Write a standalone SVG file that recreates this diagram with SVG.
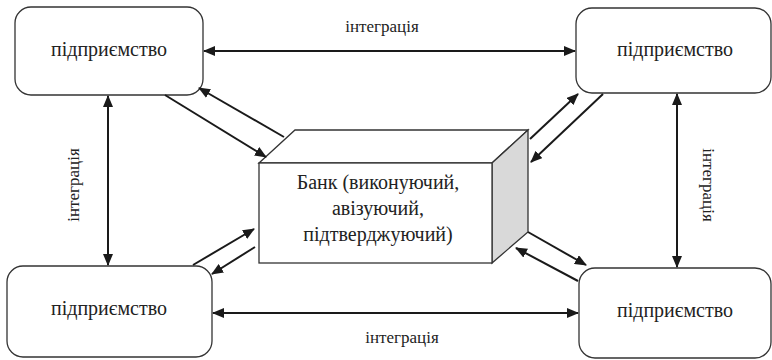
<svg xmlns="http://www.w3.org/2000/svg" width="772" height="360" viewBox="0 0 772 360">
<defs>
<marker id="ah" viewBox="0 0 12 10" refX="11" refY="5" markerWidth="12" markerHeight="10" markerUnits="userSpaceOnUse" orient="auto-start-reverse">
<path d="M0,0 L12,5 L0,10 Z" fill="#1a1a1a"/>
</marker>
<style>
.box{fill:#fff;stroke:#333;stroke-width:1.3}
.c{stroke:#1a1a1a;stroke-width:2;fill:none}
</style>
</defs>
<g id="n1"><rect class="box" x="15" y="7" width="188" height="88" rx="16"/><text x="109" y="56" font-family="Liberation Serif, serif" font-size="20" fill="#222" text-anchor="middle">підприємство</text></g>
<g id="n2"><rect class="box" x="576" y="8" width="195" height="85" rx="16"/><text x="675" y="56" font-family="Liberation Serif, serif" font-size="20" fill="#222" text-anchor="middle">підприємство</text></g>
<g id="n3"><rect class="box" x="7" y="266" width="205" height="91" rx="16"/><text x="109" y="315" font-family="Liberation Serif, serif" font-size="20" fill="#222" text-anchor="middle">підприємство</text></g>
<g id="n4"><rect class="box" x="579" y="268" width="192" height="90" rx="16"/><text x="675" y="317" font-family="Liberation Serif, serif" font-size="20" fill="#222" text-anchor="middle">підприємство</text></g>
<g id="bank">
<polygon points="259,163 295,130 528,130 492,163" fill="#fff" stroke="#333" stroke-width="1.3"/>
<polygon points="492,163 528,130 528,232 492,263" fill="#d9d9d9" stroke="#333" stroke-width="1.3"/>
<rect x="259" y="163" width="233" height="100" fill="#fff" stroke="#333" stroke-width="1.3"/>
<text x="378" y="189" font-family="Liberation Serif, serif" font-size="20" fill="#222" text-anchor="middle">Банк (виконуючий,</text>
<text x="378" y="215" font-family="Liberation Serif, serif" font-size="20" fill="#222" text-anchor="middle">авізуючий,</text>
<text x="378" y="241" font-family="Liberation Serif, serif" font-size="20" fill="#222" text-anchor="middle">підтверджуючий)</text>
</g>
<g id="connectors">
<line class="c" x1="204" y1="51" x2="575" y2="51" marker-start="url(#ah)" marker-end="url(#ah)"/>
<line class="c" x1="213" y1="313" x2="578" y2="313" marker-start="url(#ah)" marker-end="url(#ah)"/>
<line class="c" x1="108" y1="96" x2="108" y2="265" marker-start="url(#ah)" marker-end="url(#ah)"/>
<line class="c" x1="677" y1="94" x2="677" y2="267" marker-start="url(#ah)" marker-end="url(#ah)"/>
<line class="c" x1="165" y1="95" x2="266" y2="157" marker-end="url(#ah)"/>
<line class="c" x1="284" y1="137" x2="199" y2="88" marker-end="url(#ah)"/>
<line class="c" x1="530" y1="139" x2="578" y2="94" marker-end="url(#ah)"/>
<line class="c" x1="603" y1="94" x2="531" y2="162" marker-end="url(#ah)"/>
<line class="c" x1="193" y1="265" x2="254" y2="229" marker-end="url(#ah)"/>
<line class="c" x1="255" y1="247" x2="212" y2="274" marker-end="url(#ah)"/>
<line class="c" x1="528" y1="232" x2="586" y2="265" marker-end="url(#ah)"/>
<line class="c" x1="578" y1="281" x2="516" y2="248" marker-end="url(#ah)"/>
</g>
<text x="382" y="32" font-family="Liberation Serif, serif" font-size="17" fill="#222" text-anchor="middle">інтеграція</text>
<text x="402" y="343" font-family="Liberation Serif, serif" font-size="17" fill="#222" text-anchor="middle">інтеграція</text>
<text transform="translate(79,185) rotate(-90)" font-family="Liberation Serif, serif" font-size="17" fill="#222" text-anchor="middle">інтеграція</text>
<text transform="translate(703,185) rotate(90)" font-family="Liberation Serif, serif" font-size="17" fill="#222" text-anchor="middle">інтеграція</text>
</svg>
